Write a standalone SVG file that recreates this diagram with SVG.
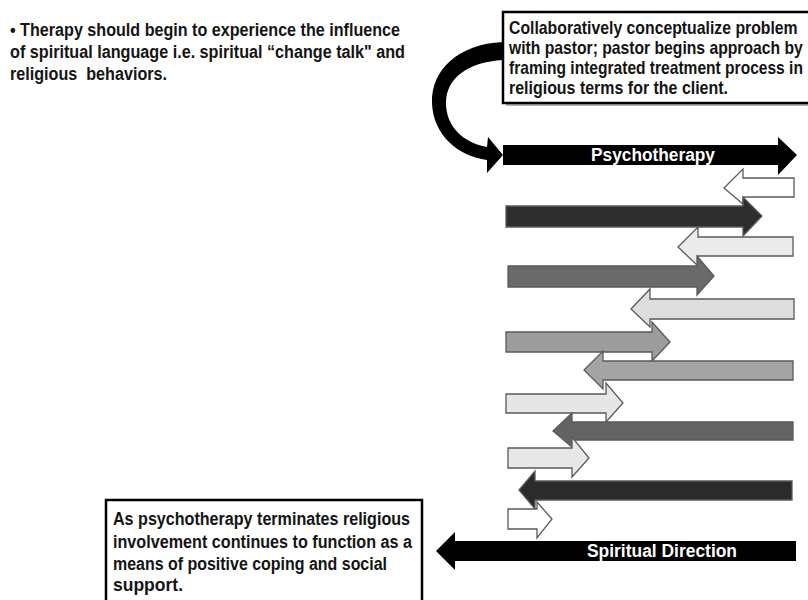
<svg xmlns="http://www.w3.org/2000/svg" width="808" height="600" viewBox="0 0 808 600">
<style>
.t{font-family:"Liberation Sans",Arial,sans-serif;font-weight:bold;font-size:18px;fill:#141414;white-space:pre}
.w{font-family:"Liberation Sans",Arial,sans-serif;font-weight:bold;font-size:18px;fill:#ffffff}
.box{fill:#ffffff;stroke:#000;stroke-width:2.5}
.shadow{fill:#b0b0b0}
.ar{stroke:#5a5a5a;stroke-width:1.3;stroke-linejoin:miter}
</style>
<rect width="808" height="600" fill="#ffffff"/>

<g id="note-top">
<text class="t" x="10" y="36" textLength="390" lengthAdjust="spacingAndGlyphs">• Therapy should begin to experience the influence</text>
<text class="t" x="10" y="58" textLength="395" lengthAdjust="spacingAndGlyphs">of spiritual language i.e. spiritual “change talk" and</text>
<text class="t" x="10" y="80" textLength="157" lengthAdjust="spacingAndGlyphs" xml:space="preserve">religious  behaviors.</text>
</g>

<g id="box-pastor">
<rect class="shadow" x="506" y="15" width="320" height="91"/>
<rect class="box" x="503" y="12" width="320" height="91"/>
<text class="t" transform="translate(509,34) scale(0.878,1)">Collaboratively conceptualize problem</text>
<text class="t" transform="translate(509,54) scale(0.872,1)">with pastor; pastor begins approach by</text>
<text class="t" transform="translate(509,74) scale(0.865,1)">framing integrated treatment process in</text>
<text class="t" x="509" y="94" textLength="219" lengthAdjust="spacingAndGlyphs">religious terms for the client.</text>
</g>

<g id="connectors">
<path d="M503,42 C458,44 431,70 432,103 C433,135 458,156 487,160 L487,173 L503,155 L488,137 L487,147 C464,143 446,127 446,103 C446,78 468,62 503,60 Z" fill="#000"/>
</g>

<g id="arrow-psychotherapy">
<polygon points="503,145 778,145 778,137 797,155 778,175 778,165 503,165" fill="#000"/>
<text class="w" x="591" y="161" textLength="124" lengthAdjust="spacingAndGlyphs">Psychotherapy</text>
</g>

<g id="steps">
<polygon id="s1" class="ar" points="794,178 743,178 743,169 724,188 743,204 743,197 794,197" fill="#ffffff"/>
<polygon id="s2" class="ar" points="506,206 743,206 743,197 762,216 743,236 743,227 506,227" fill="#2e2e2e"/>
<polygon id="s3" class="ar" points="793,237 698,237 698,227 678,247 698,266 698,256 793,256" fill="#ebebeb"/>
<polygon id="s4" class="ar" points="508,266 697,266 697,256 714,276 697,295 697,287 508,287" fill="#6a6a6a"/>
<polygon id="s5" class="ar" points="794,299 650,299 650,289 631,309 650,327 650,319 794,319" fill="#dedede"/>
<polygon id="s6" class="ar" points="506,332 652,332 652,322 670,342 652,361 652,352 506,352" fill="#9c9c9c"/>
<polygon id="s7" class="ar" points="793,361 603,361 603,351 584,370 603,389 603,380 793,380" fill="#a4a4a4"/>
<polygon id="s8" class="ar" points="506,394 606,394 606,383 623,403 606,422 606,413 506,413" fill="#e6e6e6"/>
<polygon id="s9" class="ar" points="793,422 572,422 572,413 553,431 572,447 572,440 793,440" fill="#636363"/>
<polygon id="s10" class="ar" points="508,448 572,448 572,437 589,458 572,477 572,468 508,468" fill="#e8e8e8"/>
<polygon id="s11" class="ar" points="792,481 535,481 535,471 519,490 535,509 535,500 792,500" fill="#2b2b2b"/>
<polygon id="s12" class="ar" points="508,509 537,509 537,502 552,519 537,538 537,529 508,529" fill="#ffffff"/>
</g>

<g id="arrow-spiritual">
<polygon points="796,541 455,541 455,532 436,551 455,570 455,561 796,561" fill="#000"/>
<text class="w" x="587" y="557" textLength="150" lengthAdjust="spacingAndGlyphs">Spiritual Direction</text>
</g>

<g id="box-coping">
<rect class="box" x="106" y="500" width="316" height="120"/>
<text class="t" x="113" y="525" textLength="297" lengthAdjust="spacingAndGlyphs">As psychotherapy terminates religious</text>
<text class="t" x="113" y="548" textLength="299" lengthAdjust="spacingAndGlyphs">involvement continues to function as a</text>
<text class="t" x="113" y="570" textLength="274" lengthAdjust="spacingAndGlyphs">means of positive coping and social</text>
<text class="t" x="113" y="591" textLength="70" lengthAdjust="spacingAndGlyphs">support.</text>
</g>
</svg>
